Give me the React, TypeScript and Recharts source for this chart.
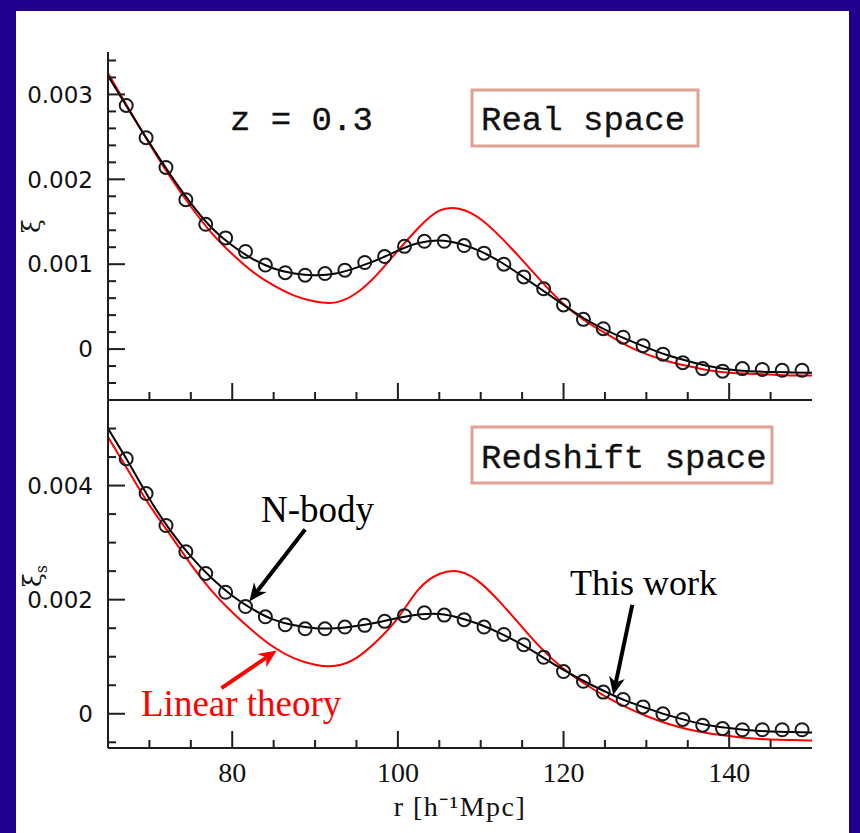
import React from 'react';
import { ComposedChart, Line, XAxis, YAxis, ReferenceLine } from 'recharts';

// ---------------- data ----------------
const rLine = [65, 67.5, 70, 72.5, 75, 77.5, 80, 82.5, 85, 87.5, 90, 92.5, 95, 97.5, 100, 102.5, 105, 107.5, 110, 112.5, 115, 117.5, 120, 122.5, 125, 127.5, 130, 132.5, 135, 137.5, 140, 142.5, 145, 147.5, 150];

const realLinear = [0.00325, 0.00283, 0.00242, 0.00203, 0.00168, 0.00137, 0.00112, 0.00091, 0.00075, 0.00063, 0.00056, 0.00055, 0.00066, 0.00088, 0.00116, 0.00143, 0.00163, 0.00165, 0.00153, 0.00131, 0.00105, 0.00078, 0.00053, 0.00034, 0.00019, 0.00005, -0.00006, -0.00014, -0.0002, -0.00025, -0.00028, -0.00029, -0.0003, -0.00031, -0.00031];
const realThis = [0.00322, 0.00282, 0.00243, 0.00206, 0.00172, 0.00143, 0.00122, 0.00106, 0.00095, 0.00089, 0.00087, 0.00089, 0.00096, 0.00105, 0.00116, 0.00125, 0.00128, 0.00124, 0.00115, 0.00102, 0.00086, 0.00069, 0.00052, 0.00036, 0.00023, 0.00012, 0.00002, -0.00007, -0.00014, -0.0002, -0.00024, -0.00026, -0.00027, -0.000275, -0.00028];

const rsLinear = [0.00485, 0.00425, 0.00366, 0.00314, 0.00262, 0.00216, 0.00178, 0.00145, 0.00117, 0.00097, 0.00086, 0.00084, 0.00098, 0.00128, 0.00168, 0.00218, 0.00245, 0.00249, 0.00229, 0.00193, 0.00152, 0.00112, 0.00079, 0.00053, 0.00031, 0.00012, -0.00004, -0.00017, -0.00027, -0.00034, -0.00039, -0.00043, -0.00045, -0.00046, -0.00047];
const rsThis = [0.005, 0.0044, 0.00377, 0.00322, 0.00276, 0.00238, 0.00207, 0.00183, 0.00165, 0.00155, 0.0015, 0.0015, 0.00154, 0.0016, 0.00168, 0.00174, 0.00175, 0.00168, 0.00156, 0.0014, 0.00121, 0.00099, 0.00077, 0.00057, 0.00039, 0.00023, 0.0001, -0.00002, -0.00012, -0.0002, -0.00025, -0.00029, -0.00031, -0.00032, -0.00033];

const rPts = [67.2, 69.6, 72.0, 74.4, 76.8, 79.2, 81.6, 84.0, 86.4, 88.8, 91.2, 93.6, 96.0, 98.4, 100.8, 103.2, 105.6, 108.0, 110.4, 112.8, 115.2, 117.6, 120.0, 122.4, 124.8, 127.2, 129.6, 132.0, 134.4, 136.8, 139.2, 141.6, 144.0, 146.4, 148.8];
const realNbody = [0.00287, 0.00249, 0.00214, 0.00176, 0.00147, 0.00131, 0.00115, 0.00099, 0.0009, 0.00087, 0.00089, 0.00093, 0.00102, 0.00109, 0.00121, 0.00127, 0.00127, 0.00122, 0.00113, 0.001, 0.00085, 0.00071, 0.00052, 0.00035, 0.00024, 0.00014, 0.00004, -0.00006, -0.00016, -0.00023, -0.00026, -0.00023, -0.00024, -0.00025, -0.00025];
const rsNbody = [0.00447, 0.00386, 0.0033, 0.00284, 0.00246, 0.00213, 0.00188, 0.0017, 0.00156, 0.00149, 0.00149, 0.00152, 0.00155, 0.00162, 0.00172, 0.00177, 0.00173, 0.00165, 0.00152, 0.00139, 0.00121, 0.00099, 0.00074, 0.00057, 0.00038, 0.00025, 0.00012, 0.0, -0.0001, -0.0002, -0.00026, -0.00028, -0.00028, -0.00028, -0.00028];

const xDomain = [65, 150];
const xTicks = [70, 75, 80, 85, 90, 95, 100, 105, 110, 115, 120, 125, 130, 135, 140, 145];
const xMajor = [80, 100, 120, 140];
const xLabels = ['80', '100', '120', '140'];

const yDomainTop = [-0.0006, 0.0035];
const yTicksTop = [-0.0004, -0.0002, 0, 0.0002, 0.0004, 0.0006, 0.0008, 0.001, 0.0012, 0.0014, 0.0016, 0.0018, 0.002, 0.0022, 0.0024, 0.0026, 0.0028, 0.003, 0.0032, 0.0034];
const yMajorTop = [0, 0.001, 0.002, 0.003];
const yLabelsTop = ['0', '0.001', '0.002', '0.003'];

const yDomainBot = [-0.0006, 0.0055];
const yTicksBot = [-0.0005, 0, 0.0005, 0.001, 0.0015, 0.002, 0.0025, 0.003, 0.0035, 0.004, 0.0045, 0.005];
const yMajorBot = [0, 0.002, 0.004];
const yLabelsBot = ['0', '0.002', '0.004'];

// annotation arrows (data coordinates, bottom panel)
const arrowNbody = [{ x: 88.8, y: 0.00323 }, { x: 82.06, y: 0.00197 }];
const arrowLinear = [{ x: 78.7, y: 0.00045 }, { x: 85.37, y: 0.00111 }];
const arrowThis = [{ x: 128.3, y: 0.00191 }, { x: 126.0, y: 0.00033 }];

const mk = (xs: number[], ys: number[]) => xs.map((r, i) => ({ r, v: ys[i] }));
const realLinearData = mk(rLine, realLinear);
const realThisData = mk(rLine, realThis);
const rsLinearData = mk(rLine, rsLinear);
const rsThisData = mk(rLine, rsThis);
const realNbodyData = mk(rPts, realNbody);
const rsNbodyData = mk(rPts, rsNbody);

// ---------------- styling helpers ----------------
const NAVY = '#20008c';
const AXIS = '#1e1e1e';
const RED = '#ff0000';
const near = (a: number, b: number) => Math.abs(a - b) < 1e-9;
const idx = (v: number, arr: number[]) => arr.findIndex((m) => near(m, v));

function makeXTick(dir: number, labels: string[] | null) {
  return (p: any) => {
    const { x, y, payload } = p;
    const i = idx(payload.value, xMajor);
    const len = i >= 0 ? 17 : 8;
    return (
      <g>
        <line x1={x} y1={y} x2={x} y2={y + dir * len} stroke={AXIS} strokeWidth={2} />
        {labels && i >= 0 ? (
          <text x={x} y={y + 34} textAnchor="middle" fontFamily="Liberation Serif" fontSize={28} fill="#111">
            {labels[i]}
          </text>
        ) : null}
      </g>
    );
  };
}

function makeYTick(dir: number, majors: number[], labels: string[] | null) {
  return (p: any) => {
    const { x, y, payload } = p;
    const i = idx(payload.value, majors);
    const len = i >= 0 ? 17 : 8;
    return (
      <g>
        <line x1={x} y1={y} x2={x + dir * len} y2={y} stroke={AXIS} strokeWidth={2} />
        {labels && i >= 0 ? (
          <text x={x - 15} y={y} dy="0.36em" textAnchor="end" fontFamily="DejaVu Sans" fontSize={23} fill="#111">
            {labels[i]}
          </text>
        ) : null}
      </g>
    );
  };
}

function arrowShape(color: string) {
  return (p: any) => {
    const { x1, y1, x2, y2 } = p;
    const a = Math.atan2(y2 - y1, x2 - x1);
    const L = 18;
    const W = 8;
    const c = Math.cos(a);
    const s = Math.sin(a);
    const bx = x2 - L * c;
    const by = y2 - L * s;
    const nx = x2 - L * 0.7 * c;
    const ny = y2 - L * 0.7 * s;
    const pts = [
      [x2, y2],
      [bx - W * s, by + W * c],
      [nx, ny],
      [bx + W * s, by - W * c],
    ]
      .map((q) => q.join(','))
      .join(' ');
    return (
      <g>
        <line x1={x1} y1={y1} x2={nx} y2={ny} stroke={color} strokeWidth={4} />
        <polygon points={pts} fill={color} />
      </g>
    );
  };
}

const axisLine = { stroke: AXIS, strokeWidth: 2 };
const dotStyle = { r: 6.5, fill: 'none', stroke: '#1a1a1a', strokeWidth: 2 };

function Panel({
  height,
  margin,
  bottomHeight,
  yDomain,
  yTicks,
  yMajor,
  yLabels,
  linear,
  thiswork,
  nbody,
  xLabelsShown,
  children,
}: any) {
  return (
    <ComposedChart width={860} height={height} margin={margin}>
      <XAxis
        xAxisId="b"
        dataKey="r"
        type="number"
        domain={xDomain}
        allowDataOverflow
        ticks={xTicks}
        interval={0}
        tickSize={0}
        tickMargin={0}
        tickLine={false}
        axisLine={axisLine}
        height={bottomHeight}
        tick={makeXTick(-1, xLabelsShown ? xLabels : null)}
        label={
          xLabelsShown
            ? {
                content: (lp: any) => {
                  const vb = lp.viewBox;
                  return (
                    <text
                      x={vb.x + vb.width / 2}
                      y={vb.y + 68}
                      textAnchor="middle"
                      fontFamily="Liberation Serif"
                      fontSize={28}
                      letterSpacing={1.5}
                      fill="#111"
                    >
                      r [h⁻¹Mpc]
                    </text>
                  );
                },
              }
            : undefined
        }
      />
      <XAxis
        xAxisId="t"
        dataKey="r"
        type="number"
        orientation="top"
        domain={xDomain}
        allowDataOverflow
        ticks={xTicks}
        interval={0}
        tickSize={0}
        tickMargin={0}
        tickLine={false}
        axisLine={axisLine}
        height={0}
        tick={makeXTick(1, null)}
      />
      <YAxis
        yAxisId="l"
        type="number"
        domain={yDomain}
        allowDataOverflow
        ticks={yTicks}
        interval={0}
        tickSize={0}
        tickMargin={0}
        tickLine={false}
        axisLine={axisLine}
        width={108}
        tick={makeYTick(1, yMajor, yLabels)}
      />
      <YAxis
        yAxisId="r"
        orientation="right"
        type="number"
        domain={yDomain}
        allowDataOverflow
        ticks={yTicks}
        interval={0}
        tickSize={0}
        tickMargin={0}
        tickLine={false}
        axisLine={axisLine}
        width={0}
        tick={makeYTick(-1, yMajor, null)}
      />
      <Line
        xAxisId="b"
        yAxisId="l"
        data={linear}
        dataKey="v"
        type="natural"
        stroke={RED}
        strokeWidth={2}
        dot={false}
        activeDot={false}
        isAnimationActive={false}
      />
      <Line
        xAxisId="b"
        yAxisId="l"
        data={thiswork}
        dataKey="v"
        type="natural"
        stroke="#000"
        strokeWidth={2}
        dot={false}
        activeDot={false}
        isAnimationActive={false}
      />
      <Line
        xAxisId="b"
        yAxisId="l"
        data={nbody}
        dataKey="v"
        stroke="none"
        dot={dotStyle}
        activeDot={false}
        isAnimationActive={false}
      />
      {children}
    </ComposedChart>
  );
}

const monoText = { fontFamily: 'Liberation Mono', fontSize: 34, fill: '#111', stroke: '#111', strokeWidth: 0.3 };

export default function App() {
  return (
    <div style={{ position: 'absolute', left: 0, top: 0, width: 860, height: 833, background: NAVY, overflow: 'hidden' }}>
      <div style={{ position: 'absolute', left: 16, top: 11, width: 833, height: 822, background: '#fff' }} />
      <div style={{ position: 'absolute', left: 0, top: 0 }}>
        <Panel
          height={420}
          margin={{ top: 52, right: 48, bottom: 0, left: 0 }}
          bottomHeight={20}
          yDomain={yDomainTop}
          yTicks={yTicksTop}
          yMajor={yMajorTop}
          yLabels={yLabelsTop}
          linear={realLinearData}
          thiswork={realThisData}
          nbody={realNbodyData}
          xLabelsShown={false}
        />
      </div>
      <div style={{ position: 'absolute', left: 0, top: 380 }}>
        <Panel
          height={453}
          margin={{ top: 20, right: 48, bottom: 0, left: 0 }}
          bottomHeight={85}
          yDomain={yDomainBot}
          yTicks={yTicksBot}
          yMajor={yMajorBot}
          yLabels={yLabelsBot}
          linear={rsLinearData}
          thiswork={rsThisData}
          nbody={rsNbodyData}
          xLabelsShown={true}
        >
          <ReferenceLine xAxisId="b" yAxisId="l" segment={arrowNbody} stroke="#000" shape={arrowShape('#000')} />
          <ReferenceLine xAxisId="b" yAxisId="l" segment={arrowLinear} stroke={RED} shape={arrowShape(RED)} />
          <ReferenceLine xAxisId="b" yAxisId="l" segment={arrowThis} stroke="#000" shape={arrowShape('#000')} />
        </Panel>
      </div>
      <svg
        width={860}
        height={833}
        style={{ position: 'absolute', left: 0, top: 0, pointerEvents: 'none' }}
      >
        <text x={32} y={226} transform="rotate(-90 32 226)" textAnchor="middle" dy="0.3em" fontFamily="DejaVu Serif" fontSize={25} fill="#111">
          ξ
        </text>
        <text x={33} y={576} transform="rotate(-90 33 576)" textAnchor="middle" dy="0.3em" fontFamily="DejaVu Serif" fontSize={25} fill="#111">
          ξ<tspan fontSize={16} dy="6">s</tspan>
        </text>
        <text x={230} y={130} {...monoText}>
          z = 0.3
        </text>
        <rect x={472} y={90} width={226} height={56} fill="#fff" stroke="#e0a294" strokeWidth={3} />
        <text x={481} y={130} {...monoText}>
          Real space
        </text>
        <rect x={472} y={427} width={300} height={56} fill="#fff" stroke="#e0a294" strokeWidth={3} />
        <text x={481} y={468} {...monoText}>
          Redshift space
        </text>
        <text x={261} y={522} fontFamily="Liberation Serif" fontSize={37} fill="#000">
          N-body
        </text>
        <text x={570} y={595} fontFamily="Liberation Serif" fontSize={36} fill="#000">
          This work
        </text>
        <text x={141} y={716} fontFamily="Liberation Serif" fontSize={37} fill={RED}>
          Linear theory
        </text>
      </svg>
    </div>
  );
}
